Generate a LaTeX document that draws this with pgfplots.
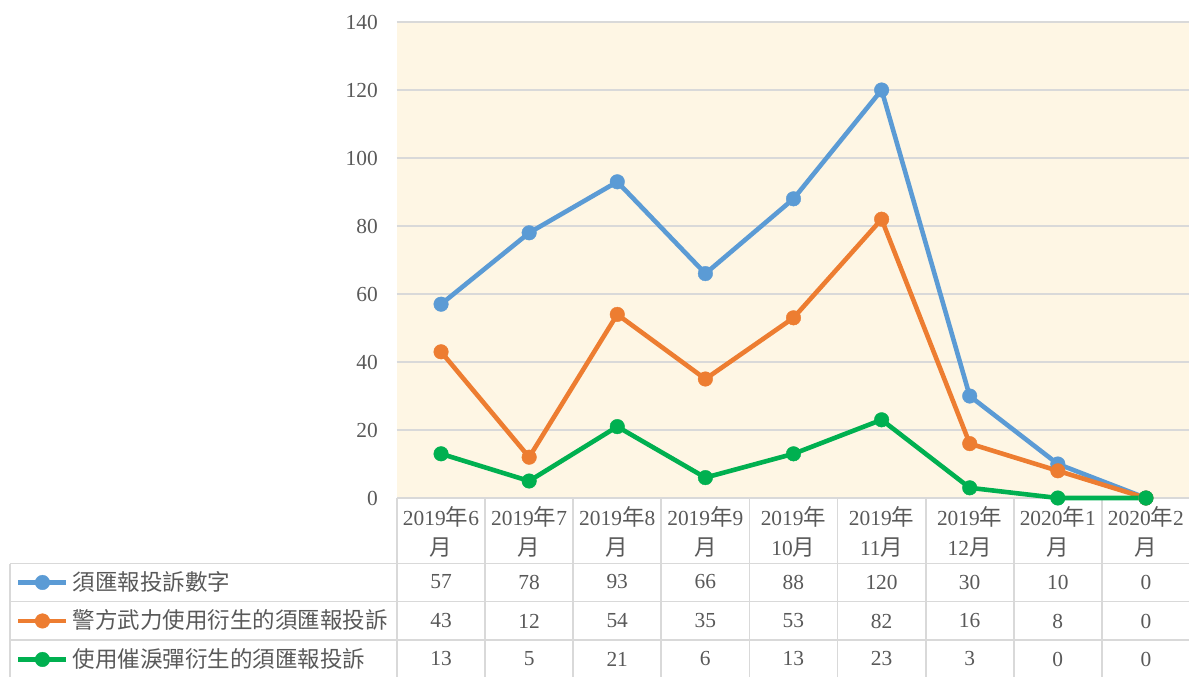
\documentclass[border=0pt]{standalone}
\usepackage{pgfplots}
\usepackage{pgfplotstable}
\pgfplotsset{compat=1.18}
\usepackage{fontspec}
\setmainfont{Liberation Serif}
\newfontfamily\cjk{Noto Sans CJK TC}[Scale=1.05]
\definecolor{txt}{HTML}{595959}
\definecolor{gridc}{HTML}{D9D9D9}
\definecolor{bg}{HTML}{FEF6E4}
\definecolor{sblue}{HTML}{5B9BD5}
\definecolor{sorange}{HTML}{ED7D31}
\definecolor{sgreen}{HTML}{00B050}
\newcommand{\nian}{{\cjk 年}}
\newcommand{\yue}{{\cjk 月}}

\pgfplotstableread{
x a b c
0 57 43 13
1 78 12 5
2 93 54 21
3 66 35 6
4 88 53 13
5 120 82 23
6 30 16 3
7 10 8 0
8 0 0 0
}\data

\begin{document}
\fontsize{21.5}{25}\selectfont
\begin{tikzpicture}
\useasboundingbox (0,0) rectangle (1189bp,-677bp);
% table grid
\begin{scope}[draw=gridc, line width=1.8bp]
\foreach \k in {0,...,9} {
  \draw ({397bp+88.111bp*\k},-498bp) -- ({397bp+88.111bp*\k},-677bp);
}
\draw (10bp,-563.5bp) -- (10bp,-677bp);
\foreach \yy in {563.5,601.5,640} {
  \draw (10bp,-\yy bp) -- (1189bp,-\yy bp);
}
\end{scope}
\begin{axis}[
  at={(397bp,-498bp)}, anchor=south west,
  width=793bp, height=476bp, scale only axis,
  xmin=-0.5, xmax=8.5, ymin=0, ymax=140,
  ytick={0,20,...,140}, xtick=\empty,
  axis line style={draw=none},
  major tick length=0pt, tick style={draw=none},
  ymajorgrids, grid style={gridc, line width=1.5bp},
  axis background/.style={fill=bg},
  yticklabel style={text=txt, inner xsep=0pt, xshift=-19bp},
  /pgf/number format/assume math mode=true,
  ticklabel style={font=\fontsize{21.5}{25}\selectfont},
  clip=false,
  every axis plot/.append style={line width=4.6bp, mark=*, mark size=7.3bp, mark options={solid, line width=0.4bp}},
  legend style={at={(-0.4805,-0.1366)}, anchor=north west, draw=none, fill=none,
    inner sep=0pt, row sep=0pt, column sep=4bp,
    font=\cjk\fontsize{21.5}{25}\selectfont, text=txt,
    nodes={minimum height=38.5bp, inner sep=0pt}},
  legend cell align=left,
  legend image code/.code={\draw[#1,mark repeat=2,mark phase=2] plot coordinates {(0bp,0bp)(24bp,0bp)(48bp,0bp)};},
]
\addplot[sblue] table[x=x,y=a]{\data};
\addlegendentry{須匯報投訴數字}
\addplot[sorange] table[x=x,y=b]{\data};
\addlegendentry{警方武力使用衍生的須匯報投訴}
\addplot[sgreen] table[x=x,y=c]{\data};
\addlegendentry{使用催淚彈衍生的須匯報投訴}
\end{axis}
% header
\foreach \t [count=\i from 0] in {{2019\nian6\\\yue},{2019\nian7\\\yue},{2019\nian8\\\yue},{2019\nian9\\\yue},{2019\nian\\10\yue},{2019\nian\\11\yue},{2019\nian\\12\yue},{2020\nian1\\\yue},{2020\nian2\\\yue}} {
  \node[text=txt, align=center, font=\fontsize{21.5}{30}\selectfont] at ({441bp+88.111bp*\i},-532bp) {\t};
}
% values
\foreach \col/\yy in {a/582,b/621,c/659} {
  \foreach \i in {0,...,8} {
    \pgfplotstablegetelem{\i}{\col}\of\data
    \node[text=txt] at ({441bp+88.111bp*\i},-\yy bp) {\pgfplotsretval};
  }
}
\end{tikzpicture}
\end{document}
